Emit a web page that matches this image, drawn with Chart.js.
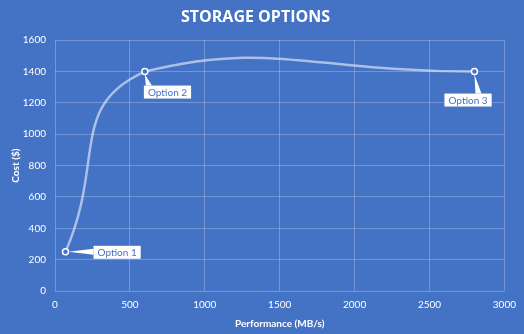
<!DOCTYPE html>
<html>
<head>
<meta charset="utf-8">
<script src="https://cdn.jsdelivr.net/npm/chart.js@4.4.0/dist/chart.umd.min.js"></script>
<style>
  html, body { margin: 0; padding: 0; background: #4472C4; }
  #wrap { width: 524px; height: 334px; }
</style>
</head>
<body>
<div id="wrap"><canvas id="c" width="524" height="334"></canvas></div>
<script>
// Données
var optionNames = ['Option 1', 'Option 2', 'Option 3'];
var performance = [70, 600, 2800];   // MB/s
var cost = [250, 1400, 1400];        // $
var xTicks = [0, 500, 1000, 1500, 2000, 2500, 3000];
var yTicks = [0, 200, 400, 600, 800, 1000, 1200, 1400, 1600];

var points = performance.map(function(v, i) {
  return { x: v, y: cost[i] };
});

var FONT = 'Lato, "Open Sans", sans-serif';

// étiquettes type "callout" : décalage de la boîte par rapport au point
var callouts = [
  { dx: 28, dy: -6, side: 'left' },
  { dx: -1, dy: 14, side: 'top' },
  { dx: -30, dy: 22, side: 'top' }
];

var calloutPlugin = {
  id: 'callouts',
  afterDatasetsDraw: function(chart) {
    var ctx = chart.ctx;
    var meta = chart.getDatasetMeta(0);
    ctx.save();
    ctx.font = '10px ' + FONT;
    ctx.textBaseline = 'middle';
    meta.data.forEach(function(pt, i) {
      var c = callouts[i];
      var w = ctx.measureText(optionNames[i]).width + 8;
      var h = 13;
      var bx = pt.x + c.dx, by = pt.y + c.dy;
      ctx.fillStyle = '#ffffff';
      ctx.beginPath();
      if (c.side === 'left') {
        ctx.moveTo(pt.x + 3, pt.y);
        ctx.lineTo(bx, by + 3);
        ctx.lineTo(bx, by + 9);
      } else {
        ctx.moveTo(pt.x, pt.y + 3);
        ctx.lineTo(pt.x + 1, by);
        ctx.lineTo(pt.x + 7, by);
      }
      ctx.closePath();
      ctx.fill();
      ctx.fillRect(bx, by, w, h);
      ctx.fillStyle = '#4472C4';
      ctx.fillText(optionNames[i], bx + 4, by + h / 2 + 0.5);
    });
    ctx.restore();
  }
};

new Chart(document.getElementById('c'), {
  type: 'scatter',
  data: {
    datasets: [{
      data: points,
      showLine: true,
      tension: 0.5,
      borderColor: 'rgba(215,225,245,0.7)',
      borderWidth: 2.5,
      pointRadius: 3,
      pointBorderWidth: 1.5,
      pointBackgroundColor: '#4472C4',
      pointBorderColor: '#ffffff'
    }]
  },
  options: {
    responsive: false,
    animation: false,
    layout: { padding: { left: 6, right: 19, top: 4, bottom: 0 } },
    plugins: {
      legend: { display: false },
      tooltip: { enabled: false },
      title: {
        display: true,
        text: 'STORAGE OPTIONS',
        color: '#ffffff',
        font: { family: '"Open Sans", sans-serif', size: 16, weight: 'bold' },
        padding: { top: 4, bottom: 13 }
      }
    },
    scales: {
      x: {
        type: 'linear',
        min: 0,
        max: 3000,
        afterBuildTicks: function(axis) {
          axis.ticks = xTicks.map(function(v) { return { value: v }; });
        },
        afterFit: function(axis) { axis.height = 43; },
        grid: { color: 'rgba(255,255,255,0.25)', drawTicks: false },
        border: { display: false },
        ticks: {
          color: '#ffffff', font: { family: FONT, size: 10 }, padding: 8,
          callback: function(v) { return String(v); }
        },
        title: {
          display: true,
          text: 'Performance (MB/s)',
          color: '#ffffff',
          font: { family: FONT, size: 10, weight: 'bold' },
          padding: { top: 3 }
        }
      },
      y: {
        min: 0,
        max: 1600,
        afterBuildTicks: function(axis) {
          axis.ticks = yTicks.map(function(v) { return { value: v }; });
        },
        afterFit: function(axis) { axis.width = 49; },
        grid: { color: 'rgba(255,255,255,0.25)', drawTicks: false },
        border: { display: false },
        ticks: {
          color: '#ffffff', font: { family: FONT, size: 10 }, padding: 9,
          callback: function(v) { return String(v); }
        },
        title: {
          display: true,
          text: 'Cost ($)',
          color: '#ffffff',
          font: { family: FONT, size: 10, weight: 'bold' },
          padding: { bottom: 4 }
        }
      }
    }
  },
  plugins: [calloutPlugin]
});
</script>
</body>
</html>
